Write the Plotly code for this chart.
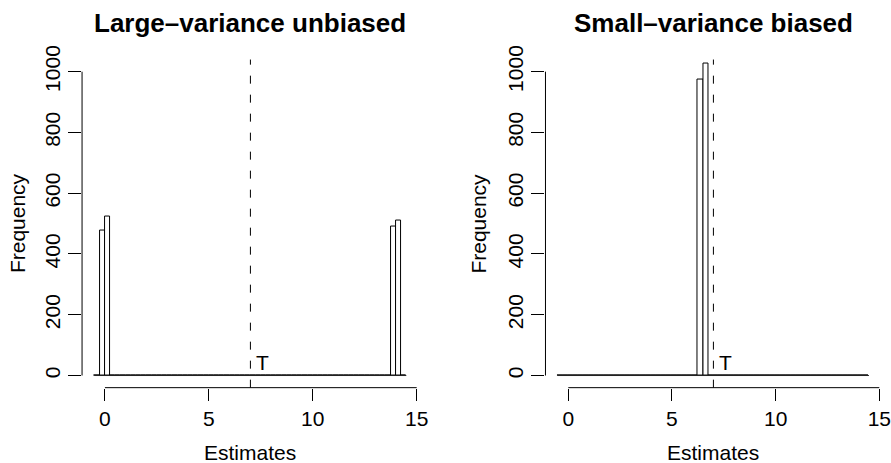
import numpy as np
import plotly.graph_objects as go

# Histogram bins: width 0.25 from -0.5 to 14.5
bin_start = -0.5
bin_end = 14.5
bin_width = 0.25

# Non-empty bins (left edge -> count) for each estimator
large_var_edges = [-0.25, 0.0, 13.75, 14.0]
large_var_counts = [476, 524, 490, 510]
small_var_edges = [6.25, 6.5]
small_var_counts = [973, 1027]

true_value = 7
panel_titles = ["Large\u2013variance unbiased", "Small\u2013variance biased"]
x_ticks = [0, 5, 10, 15]
y_ticks = [0, 200, 400, 600, 800, 1000]

breaks = np.arange(bin_start, bin_end + bin_width / 2, bin_width)
centers = (breaks[:-1] + breaks[1:]) / 2


def full_counts(edges, counts):
    out = np.zeros(len(centers))
    for e, c in zip(edges, counts):
        out[int(round((e - bin_start) / bin_width))] = c
    return out


def to_paper(v, rng, dom):
    """Map an axis value onto paper coordinates for a given range/domain."""
    return dom[0] + (v - rng[0]) / (rng[1] - rng[0]) * (dom[1] - dom[0])


FONT = "Liberation Sans, Arial, Helvetica, sans-serif"
X_RANGE = [-1.1, 15.1]
Y_RANGE = [-40, 1040]
Y_DOMAIN = [0.1627, 0.8714]
fig = go.Figure()

panels = [
    (full_counts(large_var_edges, large_var_counts), "x", "y", [0.0921, 0.4700]),
    (full_counts(small_var_edges, small_var_counts), "x2", "y2", [0.6122, 0.9892]),
]

layout_axes = {}
annotations = []
shapes = []
for i, (counts, xa, ya, dom) in enumerate(panels):
    # zero-count bins collapse onto the baseline
    fig.add_trace(go.Scatter(
        x=[breaks[0], breaks[-1]], y=[0, 0], mode="lines",
        line=dict(color="#222222", width=1), xaxis=xa, yaxis=ya,
        showlegend=False, hoverinfo="skip"))
    fig.add_trace(go.Bar(
        x=centers, y=counts, width=bin_width, xaxis=xa, yaxis=ya,
        marker=dict(color="white", line=dict(color="black", width=1)),
        showlegend=False))

    sfx = "" if i == 0 else str(i + 1)
    layout_axes["xaxis" + sfx] = dict(
        domain=dom, range=X_RANGE, anchor=ya, automargin=False,
        tickvals=x_ticks, ticks="outside", ticklen=12, tickwidth=1,
        tickcolor="black", showline=False, showgrid=False, zeroline=False,
        tickfont=dict(family=FONT, size=21, color="black"))
    layout_axes["yaxis" + sfx] = dict(
        domain=Y_DOMAIN, range=Y_RANGE, anchor=xa, automargin=False,
        tickvals=y_ticks, ticks="outside", ticklen=13, tickwidth=1,
        tickcolor="black", showline=False, showgrid=False, zeroline=False,
        tickangle=-90,
        tickfont=dict(family=FONT, size=21, color="black"))

    # R-style axis lines spanning only the tick range
    shapes.append(dict(type="line", xref="paper", yref="paper",
                       x0=to_paper(x_ticks[0], X_RANGE, dom),
                       x1=to_paper(x_ticks[-1], X_RANGE, dom),
                       y0=Y_DOMAIN[0], y1=Y_DOMAIN[0],
                       line=dict(color="black", width=1)))
    shapes.append(dict(type="line", xref="paper", yref="paper",
                       x0=dom[0], x1=dom[0],
                       y0=to_paper(y_ticks[0], Y_RANGE, Y_DOMAIN),
                       y1=to_paper(y_ticks[-1], Y_RANGE, Y_DOMAIN),
                       line=dict(color="black", width=1)))
    # true value marker
    shapes.append(dict(type="line", xref=xa, yref=ya + " domain",
                       x0=true_value, x1=true_value, y0=0, y1=1,
                       line=dict(color="black", width=1, dash="8px,11px")))

    center = (dom[0] + dom[1]) / 2
    annotations.append(dict(
        text="<b>%s</b>" % panel_titles[i], xref="paper", yref="paper",
        x=center, y=0.950, xanchor="center", yanchor="middle",
        showarrow=False, font=dict(family=FONT, size=26, color="black")))
    annotations.append(dict(
        text="Estimates", xref="paper", yref="paper",
        x=center, y=1 - 452 / 463, xanchor="center", yanchor="middle",
        showarrow=False, font=dict(family=FONT, size=21, color="black")))
    annotations.append(dict(
        text="Frequency", xref="paper", yref="paper",
        x=(17.5 if i == 0 else 479) / 891, y=(Y_DOMAIN[0] + Y_DOMAIN[1]) / 2,
        xanchor="center", yanchor="middle", textangle=-90,
        showarrow=False, font=dict(family=FONT, size=21, color="black")))
    annotations.append(dict(
        text="T", xref=xa, yref=ya, x=true_value + 0.56, y=42,
        xanchor="center", yanchor="middle",
        showarrow=False, font=dict(family=FONT, size=21, color="black")))

fig.update_layout(
    width=891, height=463,
    margin=dict(l=0, r=0, t=0, b=0, autoexpand=False),
    paper_bgcolor="white", plot_bgcolor="white",
    bargap=0, showlegend=False,
    annotations=annotations, shapes=shapes,
    **layout_axes)

fig.write_html("out.html")
